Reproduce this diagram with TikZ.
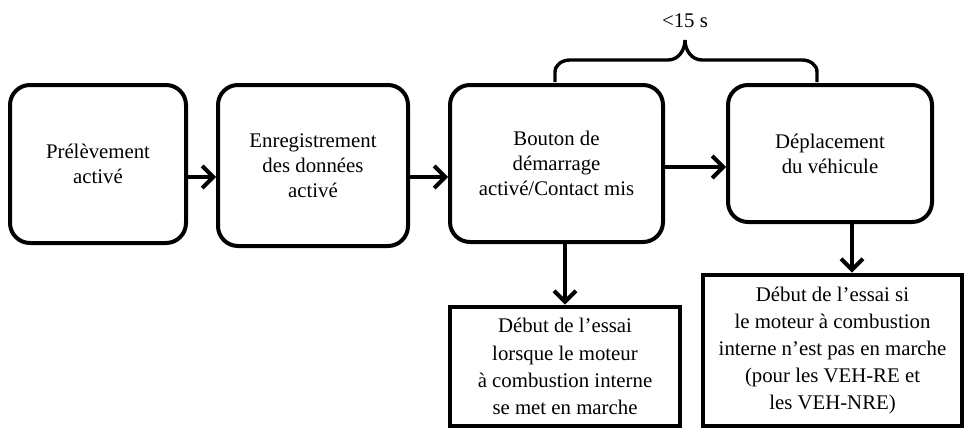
\documentclass[tikz,border=0pt]{standalone}
\usepackage{fontspec}
\setmainfont{Liberation Serif}
\usepackage{tikz}
\usetikzlibrary{calc}
\usetikzlibrary{positioning}
\usetikzlibrary{arrows.meta}

\begin{document}
\begin{tikzpicture}[x=0.5pt, y=-0.5pt, >={Straight Barb[length=5.5pt,width=11pt]},
step box/.style={draw,line width=2pt,rounded corners=10pt,align=center,inner sep=2pt,font=\fontsize{10.4}{12.5}\selectfont},
end box/.style={draw,line width=2.4pt,align=center,inner sep=2pt,font=\fontsize{10.4}{13.6}\selectfont},
arr/.style={->,line width=2pt}]

\useasboundingbox (0,0) rectangle (972,428);

% boxes on top row
\node [step box,minimum width=88pt,minimum height=79pt](sampling) at (98,164) {Prélèvement\\activé};
\node [step box,minimum width=95pt,minimum height=80.5pt](logging) at (313,165.5) {Enregistrement\\des données\\activé};
\node [step box,minimum width=106.5pt,minimum height=78.5pt](ignition) at (556.5,163.5) {Bouton de\\démarrage\\activé/Contact mis};
\node [step box,minimum width=102pt,minimum height=68.5pt](driving) at (830,153.5) {Déplacement\\du véhicule};

% start of test boxes
\node [end box,minimum width=115pt,minimum height=59.5pt](startice) at (565,366.5) {Début de l’essai\\lorsque le moteur\\à combustion interne\\se met en marche};
\node [end box,minimum width=129.5pt,minimum height=75.5pt](startveh) at (832.5,350.5) {Début de l’essai si\\le moteur à combustion\\interne n’est pas en marche\\(pour les VEH-RE et\\les VEH-NRE)};

\draw [arr] ([yshift=-6.5pt]sampling.east) -- ([yshift=-6.5pt]sampling.east -| logging.west);
\draw [arr] ([yshift=-5.75pt]logging.east) -- ([yshift=-5.75pt]logging.east -| ignition.west);
\draw [arr] ([yshift=-1.75pt]ignition.east) -- ([yshift=-1.75pt]ignition.east -| driving.west);
\draw [arr] ([xshift=4.25pt]ignition.south) -- ([xshift=4.25pt]ignition.south |- startice.north);
\draw [arr] ([xshift=11pt]driving.south) -- ([xshift=11pt]driving.south |- startveh.north);

% brace over the two boxes
\draw [line width=1.7pt] (555,82) -- (555,72) to[out=90,in=180] (570,60) -- (668,60) to[out=0,in=-90] (685,40) to[out=-90,in=180] (702,60) -- (802,60) to[out=0,in=90] (817,72) -- (817,82);
\node [font=\fontsize{10.4}{12.5}\selectfont](limit) at (685,21) {<15 s};
\end{tikzpicture}
\end{document}
